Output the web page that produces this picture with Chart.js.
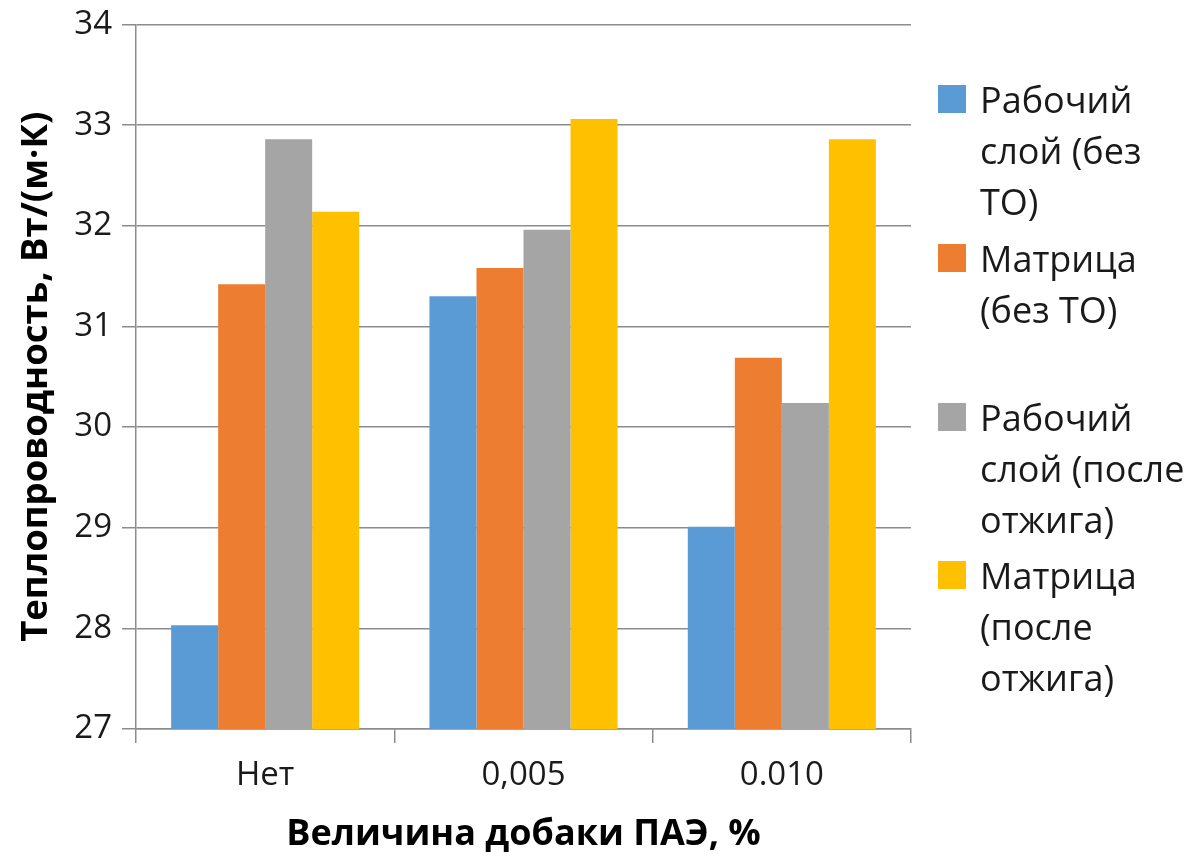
<!DOCTYPE html>
<html lang="ru">
<head>
<meta charset="utf-8">
<title>Теплопроводность</title>
<script src="https://cdn.jsdelivr.net/npm/chart.js@4.4.1/dist/chart.umd.min.js"></script>
<style>
  html, body { margin: 0; padding: 0; background: #ffffff; }
  #wrap { position: relative; width: 1197px; height: 857px; overflow: hidden; background: #ffffff; }
  #chart { position: absolute; left: 0; top: 0; }
  .lg-item { position: absolute; left: 938px; }
  .lg-box { position: absolute; left: 0; top: 0; width: 28px; height: 28px; }
  .lg-text { position: absolute; left: 42px; top: -11.5px; font-family: 'Open Sans', sans-serif;
             font-size: 36px; line-height: 51px; color: #1a1a1a; white-space: nowrap; }
</style>
</head>
<body>
<div id="wrap">
  <canvas id="chart" width="1197" height="857"></canvas>
  <div id="legend"></div>
</div>
<script>
// Категории (величина добавки ПАЭ)
const categories = ['Нет', '0,005', '0.010'];

// Теплопроводность, Вт/(м·К)
const workLayerRaw      = [28.03, 31.30, 29.01];   // рабочий слой (без ТО)
const matrixRaw         = [31.42, 31.58, 30.69];   // матрица (без ТО)
const workLayerAnnealed = [32.86, 31.96, 30.24];   // рабочий слой (после отжига)
const matrixAnnealed    = [32.14, 33.06, 32.86];   // матрица (после отжига)

// Подписи серий (по строкам, как в легенде)
const seriesNames = [
  ['Рабочий', 'слой (без', 'ТО)'],
  ['Матрица', '(без ТО)'],
  ['Рабочий', 'слой (после', 'отжига)'],
  ['Матрица', '(после', 'отжига)']
];

// Деления оси Y
const yTicks = [27, 28, 29, 30, 31, 32, 33, 34];

const yTitle = 'Теплопроводность, Вт/(м·К)';
const xTitle = 'Величина добаки ПАЭ, %';

// Оформление
const seriesColors = ['#5B9BD5', '#ED7D31', '#A5A5A5', '#FFC000'];
const seriesValues = [workLayerRaw, matrixRaw, workLayerAnnealed, matrixAnnealed];
const lineColor = '#8c8c8c';
const tickFont = { family: "'Open Sans', sans-serif", size: 33 };
const xTitleFont = { family: "'Open Sans', sans-serif", size: 36, weight: 'bold' };
const yTitleFont = { family: "'Open Sans', sans-serif", size: 36.5, weight: 'bold' };

const datasets = seriesValues.map((vals, i) => ({
  label: seriesNames[i].join(' '),
  data: vals,
  backgroundColor: seriesColors[i],
  borderWidth: 0,
  categoryPercentage: 0.728,
  barPercentage: 1.0
}));

new Chart(document.getElementById('chart'), {
  type: 'bar',
  data: { labels: categories, datasets },
  options: {
    responsive: false,
    devicePixelRatio: 1,
    animation: false,
    layout: { padding: { left: 0, right: 286, top: 24.5, bottom: 0 } },
    plugins: { legend: { display: false }, tooltip: { enabled: false } },
    scales: {
      x: {
        offset: true,
        grid: { display: true, offset: true, drawOnChartArea: false, drawTicks: true,
                tickLength: 14, color: lineColor, lineWidth: 1.5 },
        border: { display: true, color: lineColor, width: 1.5 },
        ticks: { font: tickFont, color: '#1a1a1a', padding: 13, maxRotation: 0 },
        title: { display: true, text: xTitle, font: xTitleFont, color: '#000000',
                 padding: { top: 0, bottom: 1 } },
        afterFit: s => { s.height = 128; }
      },
      y: {
        min: 27,
        max: 34,
        afterBuildTicks: s => { s.ticks = yTicks.map(v => ({ value: v })); },
        grid: { display: true, drawOnChartArea: true, drawTicks: true, tickLength: 14,
                color: lineColor, lineWidth: 1.5 },
        border: { display: true, color: lineColor, width: 1.5 },
        ticks: { font: tickFont, color: '#1a1a1a', padding: 10 },
        title: { display: true, text: yTitle, font: yTitleFont, color: '#000000',
                 padding: { top: 15, bottom: 0 } },
        afterFit: s => { s.width = 136; s.paddingTop = 0; s.paddingBottom = 0; }
      }
    }
  }
});

// Легенда справа от графика
const legendTops = [85, 244, 403, 561];
const legend = document.getElementById('legend');
seriesNames.forEach((lines, i) => {
  const item = document.createElement('div');
  item.className = 'lg-item';
  item.style.top = legendTops[i] + 'px';
  const box = document.createElement('div');
  box.className = 'lg-box';
  box.style.background = seriesColors[i];
  const txt = document.createElement('div');
  txt.className = 'lg-text';
  lines.forEach((ln, k) => {
    if (k) txt.appendChild(document.createElement('br'));
    txt.appendChild(document.createTextNode(ln));
  });
  item.appendChild(box);
  item.appendChild(txt);
  legend.appendChild(item);
});
</script>
</body>
</html>
